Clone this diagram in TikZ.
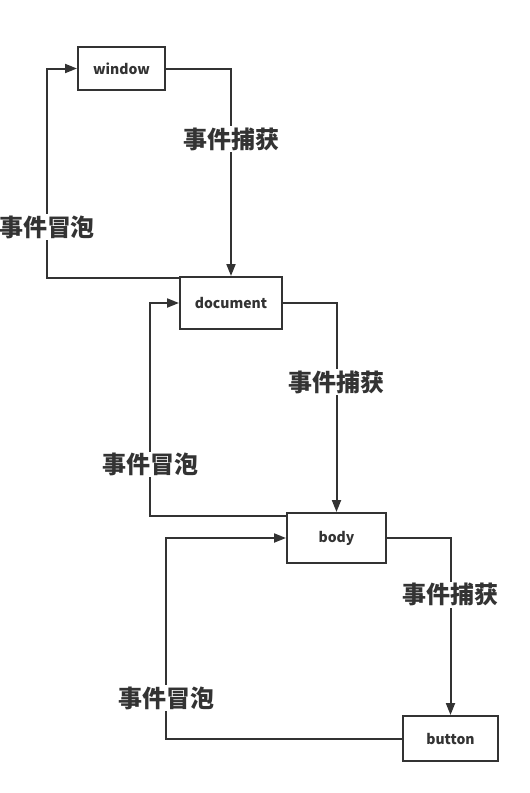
\documentclass[tikz,border=0pt]{standalone}
\usepackage{fontspec}
\setmainfont{Noto Sans CJK SC}
\usetikzlibrary{arrows.meta}
\definecolor{ink}{HTML}{333333}

\begin{document}
\begin{tikzpicture}[x=1pt,y=-1pt,
  box/.style={draw=ink,line width=2pt,inner sep=0pt,text=ink,
    font=\bfseries\fontsize{14}{16}\selectfont},
  flow/.style={draw=ink,line width=2pt,-{Triangle[length=12pt,width=9pt]}},
  tag/.style={fill=white,text=ink,inner sep=1.5pt,
    font=\bfseries\fontsize{24}{28}\selectfont}]
  \useasboundingbox (0,0) rectangle (530,793);

  % the four elements
  \node[box,minimum width=87pt,minimum height=43pt] (win) at (121.5,68.5) {window};
  \node[box,minimum width=102pt,minimum height=52pt] (doc) at (231,303) {document};
  \node[box,minimum width=99pt,minimum height=50pt] (bod) at (336.5,538) {body};
  \node[box,minimum width=95pt,minimum height=45pt] (btn) at (450.5,738.5) {button};

  % capture, going down
  \draw[flow] (win.east) -| (doc.north) node[tag,pos=0.67] {事件捕获};
  \draw[flow] (doc.east) -| (bod.north) node[tag,pos=0.69] {事件捕获};
  \draw[flow] (bod.east) -| (btn.north) node[tag,pos=0.66] {事件捕获};

  % bubbling, going up
  \draw[flow] ([yshift=-1.5pt]doc.north west) -| ([xshift=-30pt]win.west)
    node[tag,pos=0.62] {事件冒泡} -- (win.west);
  \draw[flow] ([yshift=-3.5pt]bod.north west) -| ([xshift=-29pt]doc.west)
    node[tag,pos=0.62] {事件冒泡} -- (doc.west);
  \draw[flow] (btn.west) -| ([xshift=-120pt]bod.west)
    node[tag,pos=0.6] {事件冒泡} -- (bod.west);
\end{tikzpicture}
\end{document}
